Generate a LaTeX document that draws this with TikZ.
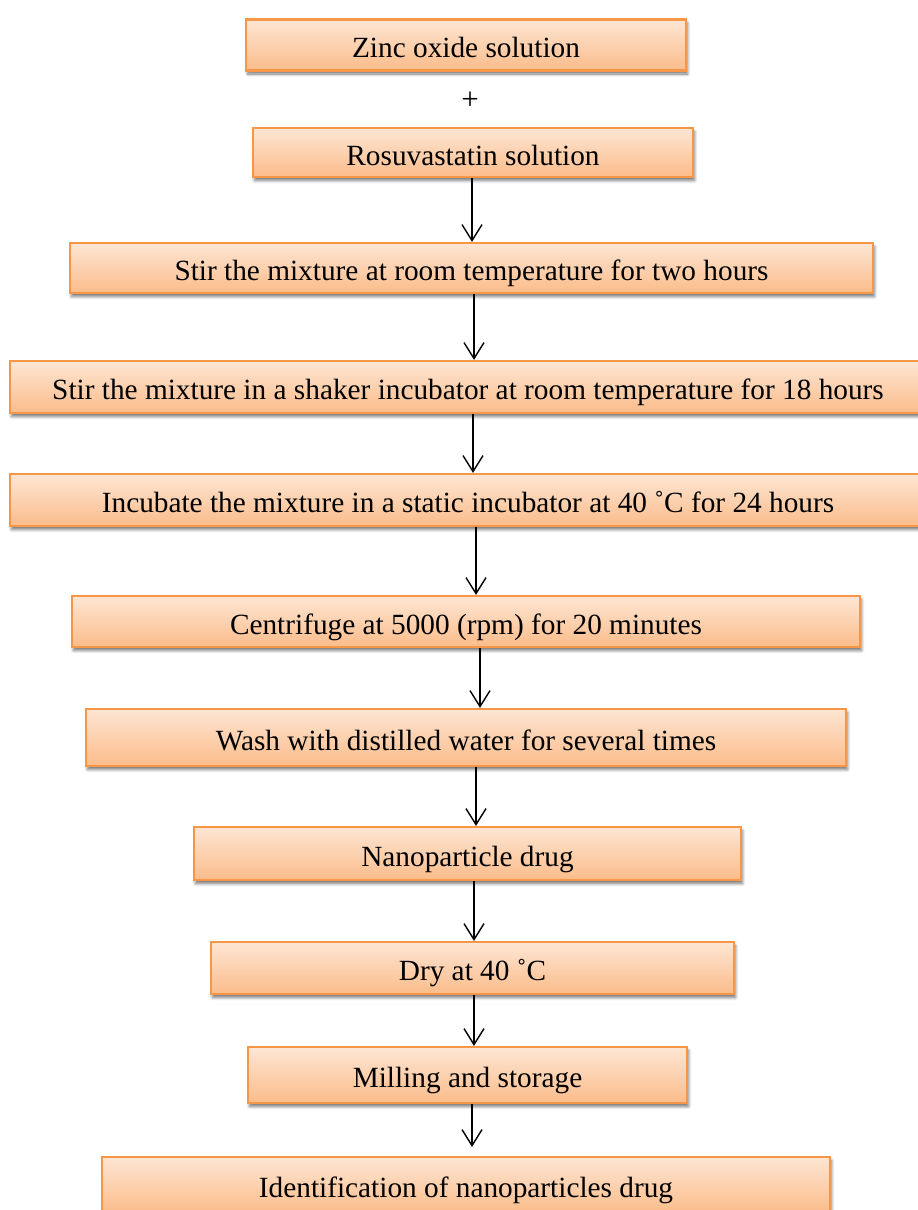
\documentclass[tikz,border=0pt]{standalone}
\usepackage{fontspec}
\setmainfont{Liberation Serif}
\usetikzlibrary{arrows.meta,shadows.blur}
\definecolor{boxborder}{HTML}{F79646}
\definecolor{boxtop}{RGB}{253,230,212}
\definecolor{boxbot}{RGB}{251,188,138}
\begin{document}
\begin{tikzpicture}[x=1pt,y=-1pt,
  stepbox/.style={draw=boxborder,line width=2.2pt,top color=boxtop,bottom color=boxbot,
    inner sep=0pt,text height=25pt,text depth=0pt,
    font=\fontsize{29.3}{35}\selectfont,
    blur shadow={shadow xshift=1.5pt,shadow yshift=-3.5pt,shadow blur steps=6,shadow blur radius=3pt,shadow opacity=55}},
  arr/.style={line width=1.4pt,-{Straight Barb[length=16pt,width=20pt,line width=1.4pt]}}]
\useasboundingbox (0,0) rectangle (918,1210);
\clip (0,0) rectangle (918,1210);
\node[stepbox,minimum width=440pt,minimum height=51pt] (b1) at (466,45) {Zinc oxide solution};
\node[font=\fontsize{31}{35}\selectfont] (plus) at (470,101) {+};
\node[stepbox,minimum width=440pt,minimum height=49pt] (b2) at (473,152.5) {Rosuvastatin solution};
\node[stepbox,minimum width=803pt,minimum height=50pt] (b3) at (471.5,268) {Stir the mixture at room temperature for two hours};
\node[stepbox,minimum width=916pt,minimum height=52pt] (b4) at (468,387) {Stir the mixture in a shaker incubator at room temperature for 18 hours};
\node[stepbox,minimum width=916pt,minimum height=52pt] (b5) at (468,500) {Incubate the mixture in a static incubator at 40 ˚C for 24 hours};
\node[stepbox,minimum width=788pt,minimum height=51pt] (b6) at (466,621.5) {Centrifuge at 5000 (rpm) for 20 minutes};
\node[stepbox,minimum width=760pt,minimum height=57pt] (b7) at (466,737.5) {Wash with distilled water for several times};
\node[stepbox,minimum width=547pt,minimum height=53pt] (b8) at (467.5,853.5) {Nanoparticle drug};
\node[stepbox,minimum width=523pt,minimum height=52pt] (b9) at (472.5,968) {Dry at 40 ˚C};
\node[stepbox,minimum width=439pt,minimum height=56pt] (b10) at (467.5,1075) {Milling and storage};
\node[stepbox,minimum width=728pt,minimum height=56pt] (b11) at (466,1185) {Identification of nanoparticles drug};
\draw[arr] (b2.south -| 472,0) -- (b3.north -| 472,0);
\draw[arr] (b3.south -| 474,0) -- (b4.north -| 474,0);
\draw[arr] (b4.south -| 473,0) -- (b5.north -| 473,0);
\draw[arr] (b5.south -| 476,0) -- (b6.north -| 476,0);
\draw[arr] (b6.south -| 480,0) -- (b7.north -| 480,0);
\draw[arr] (b7.south -| 476,0) -- (b8.north -| 476,0);
\draw[arr] (b8.south -| 474,0) -- (b9.north -| 474,0);
\draw[arr] (b9.south -| 474,0) -- (b10.north -| 474,0);
\draw[arr,shorten >=9pt] (b10.south -| 472,0) -- (b11.north -| 472,0);
\end{tikzpicture}
\end{document}
